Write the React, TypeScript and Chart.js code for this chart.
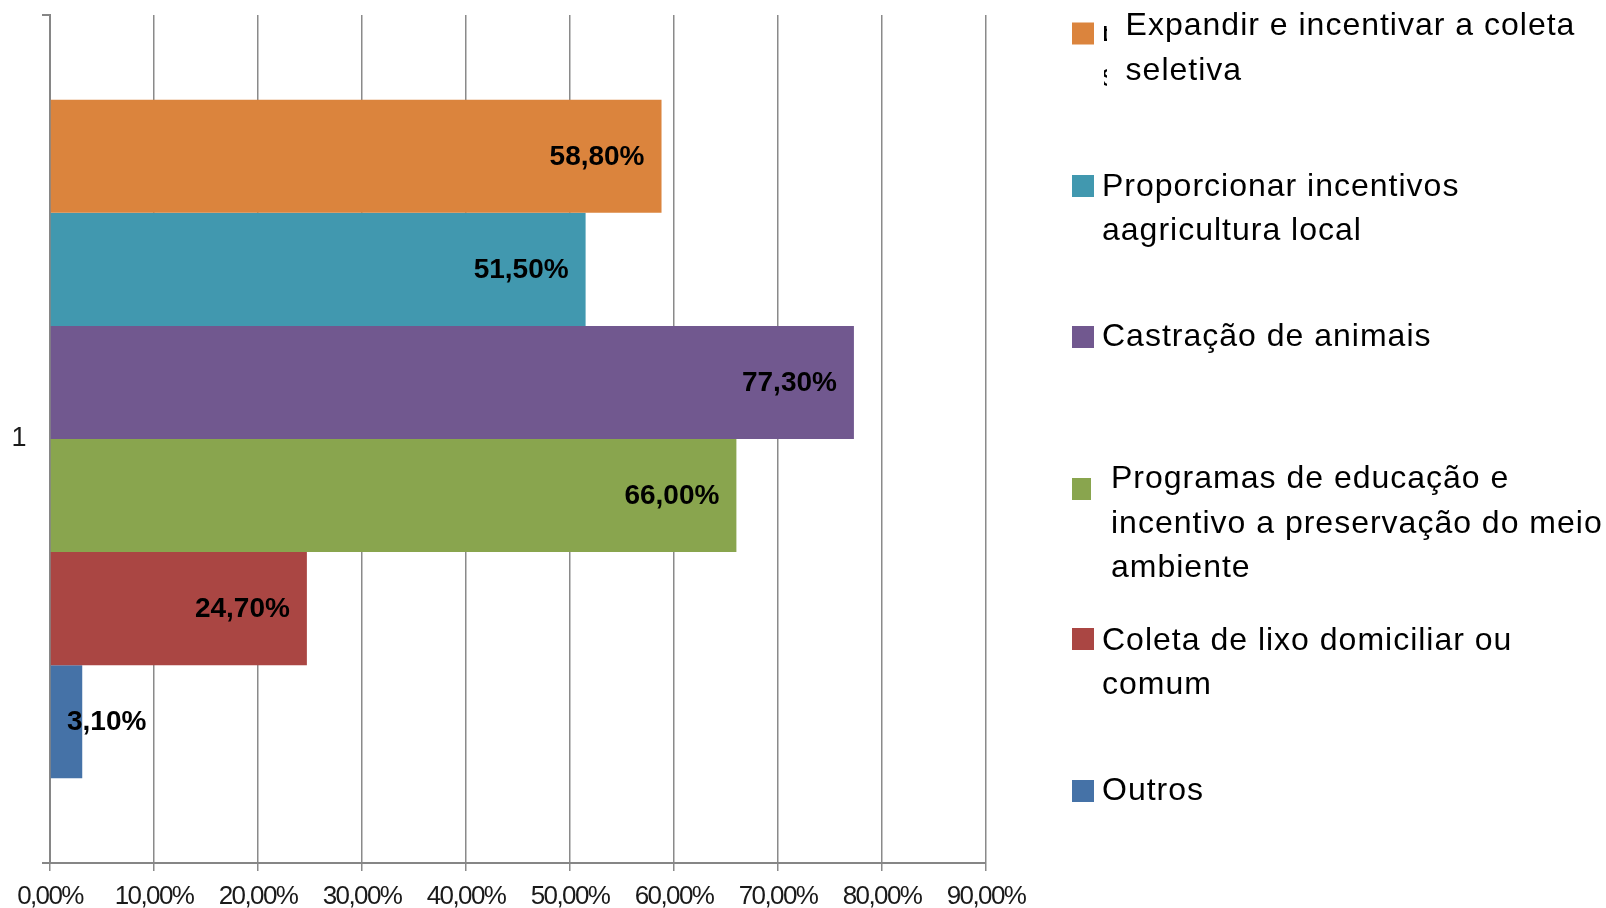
import React, { useEffect, useRef } from "react";
import { Chart, registerables } from "chart.js";

Chart.register(...registerables);

const categories = ["1"];
const seriesNames = [
  "Expandir e incentivar a coleta\nseletiva",
  "Proporcionar incentivos\naagricultura local",
  "Castração de animais",
  "Programas de educação e\nincentivo a preservação do meio\nambiente",
  "Coleta de lixo domiciliar ou\ncomum",
  "Outros",
];
const seriesValues = [58.8, 51.5, 77.3, 66.0, 24.7, 3.1];
const seriesColors = ["#DB843D", "#4198AF", "#71588F", "#89A54E", "#AA4643", "#4572A7"];
const xTicks = [0, 10, 20, 30, 40, 50, 60, 70, 80, 90];

const fmt = (v: number) => v.toFixed(2).replace(".", ",") + "%";

const TICK_FONT = "'Liberation Sans', Arial, sans-serif";
const LEGEND_FONT = "32px 'Liberation Sans', Arial, sans-serif";
const LABEL_FONT = "bold 28px 'Liberation Sans', Arial, sans-serif";

// legend layout: marker top, marker size, text x, first line center y
const legendLayout = [
  { my: 22.5, mw: 22, mh: 22, tx: 1125.6, ty: 26.5 },
  { my: 175, mw: 22, mh: 22, tx: 1102, ty: 187 },
  { my: 326, mw: 22, mh: 22, tx: 1102, ty: 337.5 },
  { my: 478, mw: 19, mh: 22, tx: 1111, ty: 479.5 },
  { my: 628, mw: 22, mh: 22, tx: 1102, ty: 641 },
  { my: 780, mw: 22, mh: 22, tx: 1102, ty: 791.5 },
];
const LINE_H = 44.5;

const tickSpacingPlugin = {
  id: "tickSpacing",
  beforeDraw(chart: any) {
    try {
      (chart.ctx as any).letterSpacing = "-1.6px";
    } catch (e) {}
  },
  beforeDatasetsDraw(chart: any) {
    try {
      (chart.ctx as any).letterSpacing = "0px";
    } catch (e) {}
  },
};

const dataLabelPlugin = {
  id: "dataLabels",
  afterDatasetsDraw(chart: any) {
    const ctx = chart.ctx;
    ctx.save();
    try {
      (ctx as any).letterSpacing = "0px";
    } catch (e) {}
    ctx.font = LABEL_FONT;
    ctx.fillStyle = "#000";
    ctx.textAlign = "left";
    ctx.textBaseline = "middle";
    chart.data.datasets.forEach((ds: any, i: number) => {
      const meta = chart.getDatasetMeta(i);
      meta.data.forEach((bar: any, j: number) => {
        const text = fmt(ds.data[j]);
        const w = ctx.measureText(text).width;
        const x = Math.max(bar.x - 17 - w, chart.chartArea.left + 17);
        ctx.fillText(text, x, bar.y + 1);
      });
    });
    ctx.restore();
  },
};

const legendPlugin = {
  id: "customLegend",
  afterDraw(chart: any) {
    const ctx = chart.ctx;
    ctx.save();
    ctx.font = LEGEND_FONT;
    try {
      (ctx as any).letterSpacing = "1px";
    } catch (e) {}
    ctx.textAlign = "left";
    ctx.textBaseline = "middle";
    chart.data.datasets.forEach((ds: any, i: number) => {
      const L = legendLayout[i];
      ctx.fillStyle = ds.backgroundColor;
      ctx.fillRect(1072, L.my, L.mw, L.mh);
      ctx.fillStyle = "#000";
      const lines = String(ds.label).split("\n");
      if (i === 0) {
        // partially hidden duplicate text behind the first entry
        ctx.save();
        ctx.beginPath();
        ctx.rect(1104, 26, 3, 72);
        ctx.clip();
        lines.forEach((ln, k) => ctx.fillText(ln, 1101, L.ty + 6 + k * LINE_H));
        ctx.restore();
      }
      lines.forEach((ln, k) => ctx.fillText(ln, L.tx, L.ty + k * LINE_H));
    });
    ctx.restore();
  },
};

export default function App() {
  const ref = useRef<HTMLCanvasElement | null>(null);
  useEffect(() => {
    if (!ref.current) return;
    const chart = new Chart(ref.current, {
      type: "bar",
      data: {
        labels: categories,
        datasets: seriesNames.map((name, i) => ({
          label: name,
          data: [seriesValues[i]],
          backgroundColor: seriesColors[i],
          borderWidth: 0,
          barPercentage: 1,
          categoryPercentage: 0.8,
        })),
      },
      options: {
        indexAxis: "y",
        animation: false,
        responsive: false,
        maintainAspectRatio: false,
        layout: { padding: { top: 15, right: 620, bottom: 0, left: 0 } },
        plugins: {
          legend: { display: false },
          tooltip: { enabled: false },
        },
        scales: {
          x: {
            type: "linear",
            min: xTicks[0],
            max: xTicks[xTicks.length - 1],
            afterBuildTicks: (scale: any) => {
              scale.ticks = xTicks.map((v) => ({ value: v }));
            },
            afterFit: (scale: any) => {
              scale.height = 45;
            },
            ticks: {
              callback: (v: any) => fmt(Number(v)),
              font: { family: TICK_FONT, size: 26 },
              color: "#1a1a1a",
              padding: 10,
              maxRotation: 0,
              autoSkip: false,
            },
            grid: {
              color: "#8a8a8a",
              lineWidth: 1.5,
              tickLength: 8,
              drawTicks: true,
            },
            border: { color: "#868686", width: 2 },
          },
          y: {
            type: "category",
            afterFit: (scale: any) => {
              scale.width = 50;
              scale.paddingTop = 0;
              scale.paddingBottom = 0;
            },
            ticks: {
              font: { family: TICK_FONT, size: 27 },
              color: "#1a1a1a",
              padding: 17,
            },
            grid: {
              offset: true,
              drawOnChartArea: false,
              drawTicks: true,
              tickLength: 8,
              color: "#868686",
              lineWidth: 2,
            },
            border: { color: "#868686", width: 2 },
          },
        },
      } as any,
      plugins: [tickSpacingPlugin, dataLabelPlugin, legendPlugin],
    });
    return () => chart.destroy();
  }, []);
  return (
    <div style={{ position: "fixed", left: 0, top: 0, width: 1606, height: 908, background: "#fff" }}>
      <canvas ref={ref} width={1606} height={908} style={{ display: "block" }} />
    </div>
  );
}
